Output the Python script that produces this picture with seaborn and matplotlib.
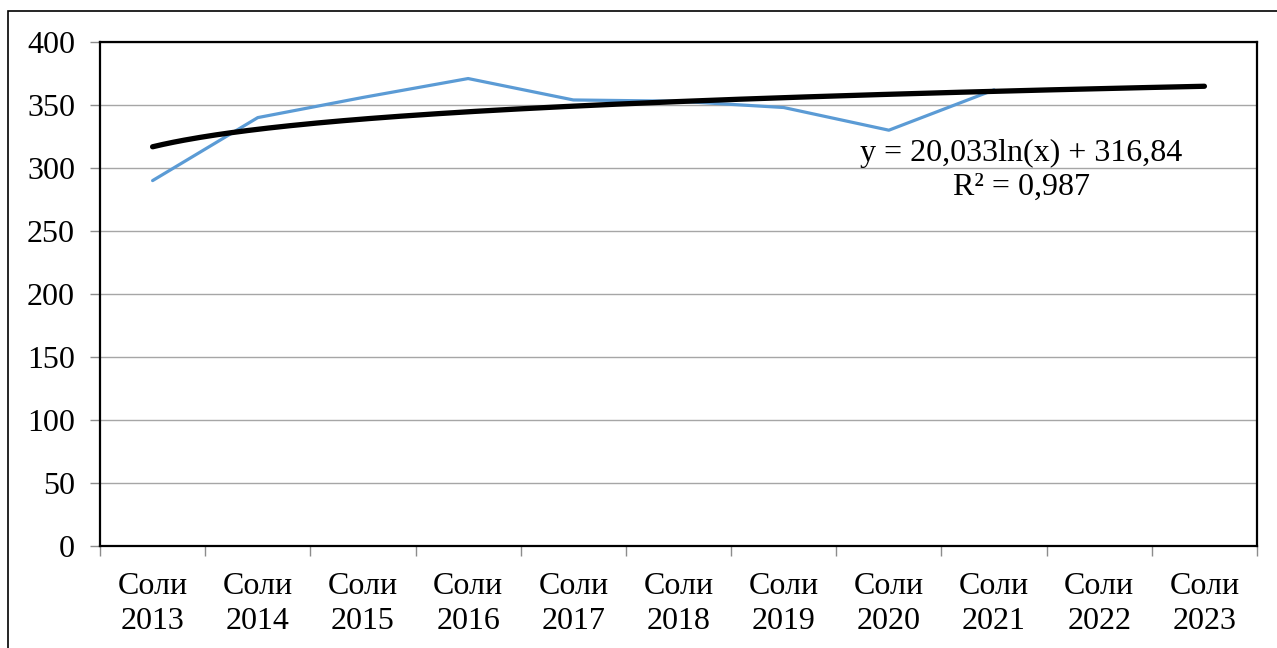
import matplotlib.pyplot as plt
import numpy as np
import pandas as pd
import seaborn as sns
from matplotlib.patches import Rectangle

years = ['2013', '2014', '2015', '2016', '2017', '2018', '2019', '2020', '2021', '2022', '2023']
labels = ['Соли\n' + y for y in years]
observed = [290, 340, 356, 371, 354, 353, 348, 330, 362]

# logarithmic trend line as printed on the chart
trend_a = 20.033
trend_b = 316.84
trend_text = 'y = 20,033ln(x) + 316,84\nR² = 0,987'

sns.set_style('white')
plt.rcParams['font.family'] = ['Liberation Serif', 'DejaVu Serif']
plt.rcParams['text.color'] = 'black'
plt.rcParams['xtick.color'] = 'black'
plt.rcParams['ytick.color'] = 'black'

df = pd.DataFrame({'x': np.arange(len(observed)), 'value': observed})
xs = np.linspace(1, len(years), 200)
trend = pd.DataFrame({'x': xs - 1, 'value': trend_a * np.log(xs) + trend_b})

fig = plt.figure(figsize=(12.77, 6.48), dpi=100)
ax = fig.add_axes([100 / 1277, 1 - 546 / 648, 1157 / 1277, 504 / 648])

ax.grid(axis='y', color='#a6a6a6', linewidth=1.0)
ax.set_axisbelow(True)

sns.lineplot(data=df, x='x', y='value', ax=ax, color='#5b9bd5', linewidth=2.3)
sns.lineplot(data=trend, x='x', y='value', ax=ax, color='black', linewidth=3.8)

ax.set_xlim(-0.5, len(years) - 0.5)
ax.set_ylim(0, 400)
ax.set_yticks(range(0, 401, 50))
ax.set_xticks(range(len(years)))
ax.set_xticklabels(labels, fontsize=23, linespacing=1.25)
ax.set_xticks(np.arange(-0.5, len(years), 1), minor=True)
ax.tick_params(axis='x', which='major', bottom=True, length=0, pad=19)
ax.tick_params(axis='x', which='minor', bottom=True, length=7, width=1, color='#8c8c8c')
ax.tick_params(axis='y', left=True, length=7, width=1, color='#8c8c8c',
               labelsize=23, pad=11)
ax.set_xlabel('')
ax.set_ylabel('')

for s in ax.spines.values():
    s.set_visible(True)
    s.set_color('black')
    s.set_linewidth(1.6)

ax.text(8.26, 298, trend_text, fontsize=23, ha='center', va='center', linespacing=1.2)

fig.patches.append(Rectangle((8 / 1277, -0.1), 1.2, 1 - 11 / 648 + 0.1,
                             transform=fig.transFigure, fill=False,
                             edgecolor='black', linewidth=1.2))

fig.savefig('out.png', dpi=100)
